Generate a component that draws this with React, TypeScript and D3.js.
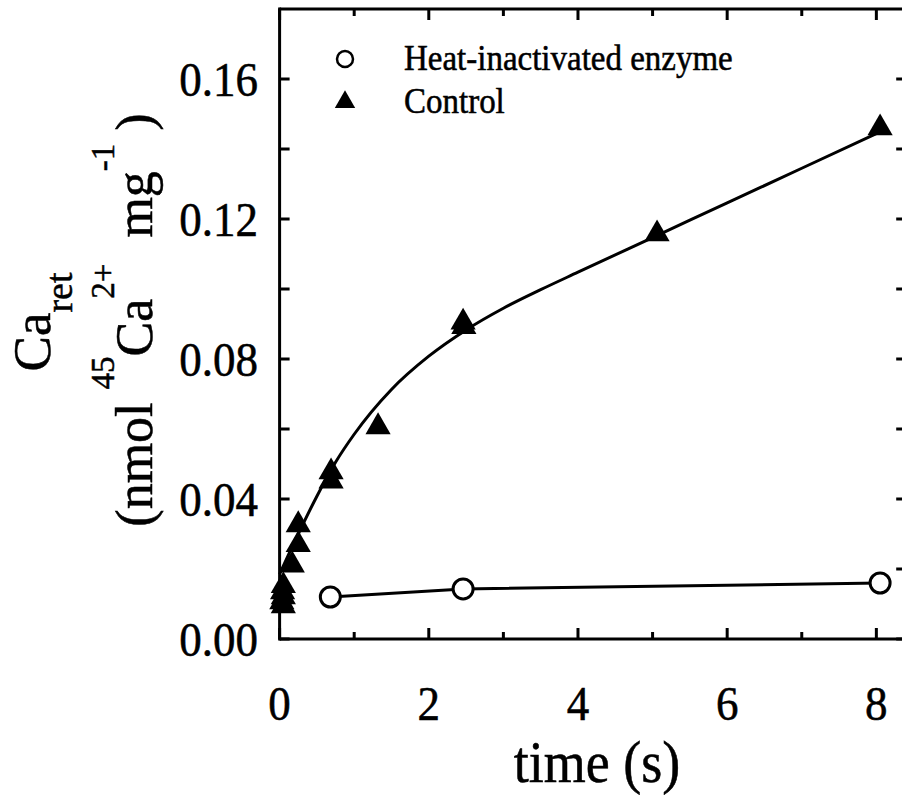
import React from "react";
import * as d3 from "d3";

// Control (filled triangles)
const controlTime = [8.05, 5.06, 2.46, 2.47, 1.32, 0.69, 0.69, 0.25, 0.25, 0.17, 0.05, 0.04, 0.05, 0.03, 0.05];
const controlCa = [0.146, 0.1157, 0.0905, 0.0892, 0.0606, 0.0477, 0.0451, 0.0326, 0.0269, 0.0211, 0.0152, 0.0134, 0.012, 0.0106, 0.0094];

// Heat-inactivated enzyme (open circles)
const heatTime = [0.68, 2.46, 8.05];
const heatCa = [0.012, 0.0143, 0.016];

// fitted curve for control
const fitTime = [0, 0.25, 0.5, 0.75, 1.0, 1.5, 2.0, 2.5, 3.0, 3.5, 4.0, 5.0, 6.0, 7.0, 8.05];
const fitCa = [0.0185, 0.03, 0.0408, 0.0505, 0.0585, 0.0713, 0.0808, 0.0883, 0.0945, 0.0998, 0.1048, 0.1147, 0.1246, 0.1345, 0.1449];

const xMajorTicks = [0, 2, 4, 6, 8];
const xMinorTicks = [1, 3, 5, 7];
const yMajorTicks = [0, 0.04, 0.08, 0.12, 0.16];
const yMinorTicks = [0.02, 0.06, 0.1, 0.14];
const yTickLabels = ["0.00", "0.04", "0.08", "0.12", "0.16"];
const legendLabels = ["Heat-inactivated enzyme", "Control"];

const W = 902;
const H = 800;
const FONT = '"Liberation Serif", "Times New Roman", Times, serif';
const VS = 1.1; // vertical stretch of the reference lettering

export default function App() {
  const x = d3.scaleLinear().domain([0, 8.4]).range([279.6, 906.2]);
  const y = d3.scaleLinear().domain([0, 0.18]).range([639, 9]);
  const [x0, x1] = x.range();
  const [yb, yt] = y.range();

  const fitLine = d3
    .line<number>()
    .x((_, i) => x(fitTime[i]))
    .y((d) => y(d))
    .curve(d3.curveMonotoneX)(fitCa) as string;

  const heatLine = d3
    .line<number>()
    .x((_, i) => x(heatTime[i]))
    .y((d) => y(d))(heatCa) as string;

  const tri = d3.symbol().type(d3.symbolTriangle).size(275)() as string;
  const triLegend = d3.symbol().type(d3.symbolTriangle).size(180)() as string;

  const sw = 3;
  const allY = [...yMajorTicks, ...yMinorTicks];
  const ts: React.CSSProperties = { fontFamily: FONT };
  const txtStroke = { stroke: "#000", strokeWidth: 0.5 };

  return (
    <svg
      width={W}
      height={H}
      style={{ position: "absolute", left: 0, top: 0, background: "#fff", fontFamily: FONT }}
    >
      <rect x={0} y={0} width={W} height={H} fill="#fff" />
      {/* frame */}
      <g stroke="#000" strokeWidth={sw} fill="none">
        <line x1={x0} x2={x1} y1={yb} y2={yb} />
        <line x1={x0} x2={x1} y1={yt} y2={yt} />
        <line x1={x0} x2={x0} y1={yb + 1.5} y2={yt - 1.5} />
        <line x1={x1} x2={x1} y1={yb + 1.5} y2={yt - 1.5} />
        {xMajorTicks.map((t) => (
          <g key={"xm" + t}>
            <line x1={x(t)} x2={x(t)} y1={yb} y2={yb - 11} />
            <line x1={x(t)} x2={x(t)} y1={yt} y2={yt + 11} />
          </g>
        ))}
        {xMinorTicks.map((t) => (
          <g key={"xn" + t}>
            <line x1={x(t)} x2={x(t)} y1={yb} y2={yb - 7} />
            <line x1={x(t)} x2={x(t)} y1={yt} y2={yt + 7} />
          </g>
        ))}
        {allY.map((t) => (
          <g key={"y" + t}>
            <line x1={x0} x2={x0 + 10} y1={y(t)} y2={y(t)} />
            <line x1={x1} x2={x1 - 10} y1={y(t)} y2={y(t)} />
          </g>
        ))}
      </g>

      {/* tick labels */}
      <g fontSize={45} fill="#000" {...txtStroke}>
        {yMajorTicks.map((t, i) => (
          <text
            key={"yl" + t}
            transform={`translate(258,${y(t)}) scale(1,${VS})`}
            dy="0.34em"
            textAnchor="end"
            style={ts}
          >
            {yTickLabels[i]}
          </text>
        ))}
        {xMajorTicks.map((t) => (
          <text key={"xl" + t} transform={`translate(${x(t)},720) scale(1,${VS})`} textAnchor="middle" style={ts}>
            {String(t)}
          </text>
        ))}
      </g>

      {/* axis titles */}
      <text transform={`translate(597,782) scale(1,${VS})`} fontSize={54} textAnchor="middle" style={ts} {...txtStroke}>
        time (s)
      </text>
      <text transform="translate(50,322) rotate(-90)" fontSize={53} textAnchor="middle" style={ts} {...txtStroke}>
        Ca
        <tspan fontSize={38} dy={22}>ret</tspan>
      </text>
      <text
        transform="translate(152,320) rotate(-90)"
        fontSize={52}
        textAnchor="middle"
        style={{ ...ts, whiteSpace: "pre" }}
        {...txtStroke}
      >
        {"(nmol "}
        <tspan fontSize={33} dy={-38}>45</tspan>
        <tspan dy={38}>Ca</tspan>
        <tspan fontSize={33} dy={-38}>2+</tspan>
        <tspan dy={38}>{"  mg"}</tspan>
        <tspan fontSize={33} dy={-38}>-1</tspan>
        <tspan dy={38}>{" )"}</tspan>
      </text>

      {/* series lines */}
      <path d={fitLine} fill="none" stroke="#000" strokeWidth={3} />
      <path d={heatLine} fill="none" stroke="#000" strokeWidth={3} />

      {/* control triangles */}
      {controlCa.map((v, i) => (
        <path key={"c" + i} d={tri} transform={`translate(${x(controlTime[i])},${y(v)})`} fill="#000" />
      ))}
      {/* heat circles */}
      {heatCa.map((v, i) => (
        <circle key={"h" + i} cx={x(heatTime[i])} cy={y(v)} r={10} fill="#fff" stroke="#000" strokeWidth={3} />
      ))}

      {/* legend */}
      <circle cx={345} cy={59} r={8} fill="#fff" stroke="#000" strokeWidth={2.5} />
      <path d={triLegend} transform="translate(345,102)" fill="#000" />
      <g fontSize={33} {...txtStroke}>
        <text transform={`translate(404,70) scale(1,${VS})`} style={ts}>{legendLabels[0]}</text>
        <text transform={`translate(404,113) scale(1,${VS})`} style={ts}>{legendLabels[1]}</text>
      </g>
    </svg>
  );
}
